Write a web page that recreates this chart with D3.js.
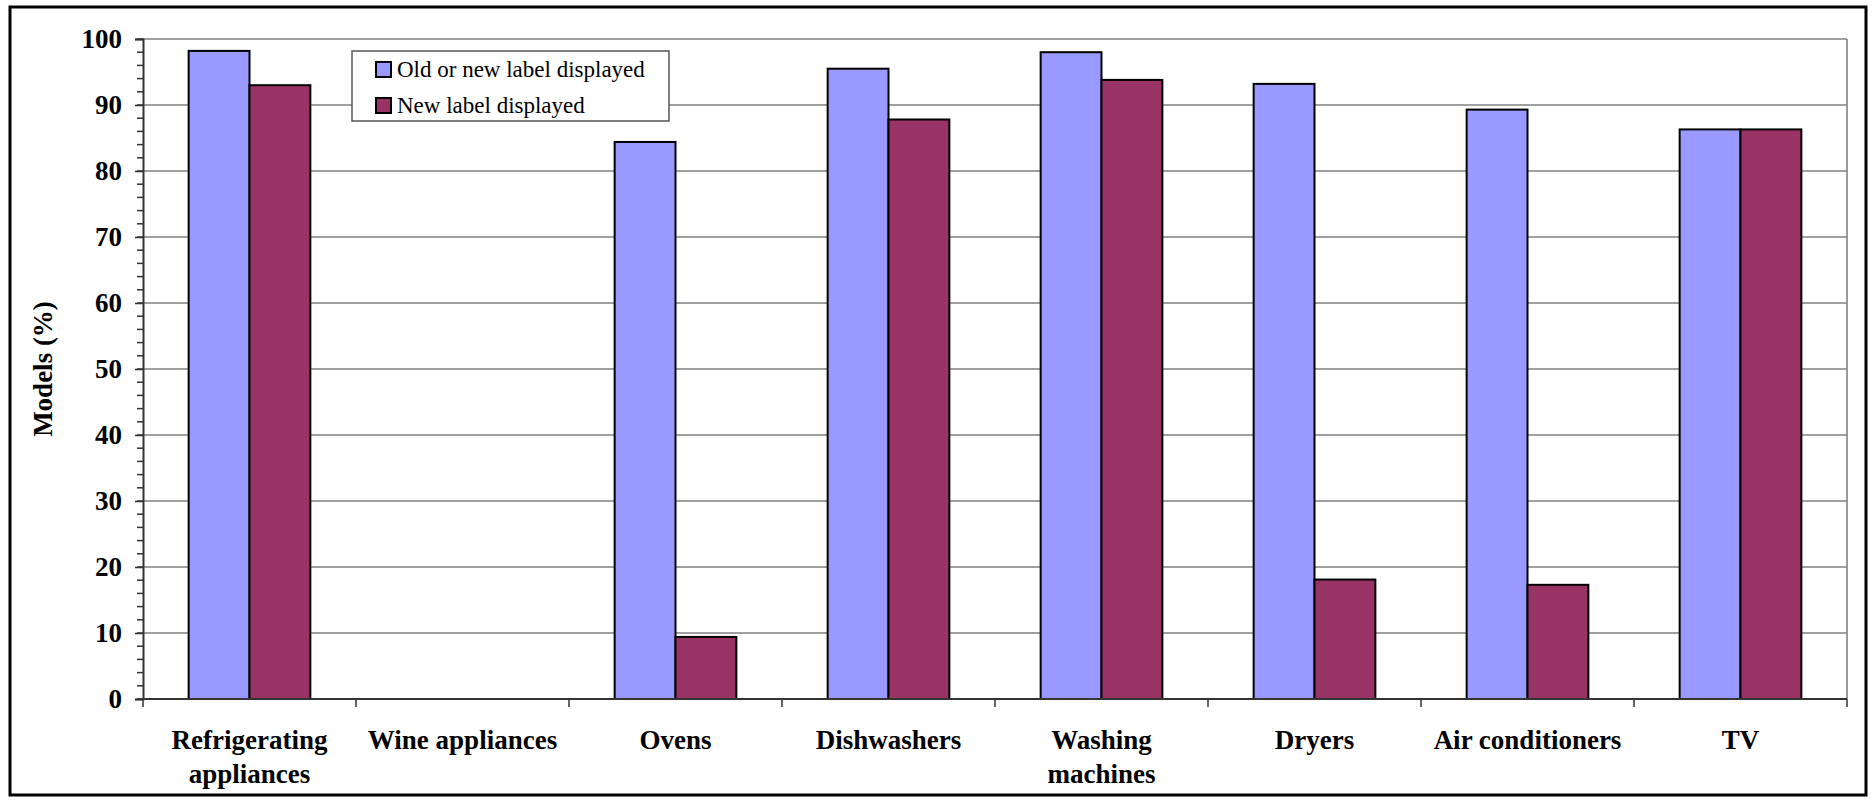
<!DOCTYPE html>
<html>
<head>
<meta charset="utf-8">
<script src="https://cdn.jsdelivr.net/npm/d3@7"></script>
<style>
  html, body { margin: 0; padding: 0; background: #fff; }
  svg { display: block; }
</style>
</head>
<body>
<svg id="chart" width="1874" height="802"></svg>
<script>
// Appliance categories (line breaks mark two-line labels)
const categories = [
  "Refrigerating\nappliances",
  "Wine appliances",
  "Ovens",
  "Dishwashers",
  "Washing\nmachines",
  "Dryers",
  "Air conditioners",
  "TV"
];

const seriesNames = ["Old or new label displayed", "New label displayed"];

// Share of models (%) per category; null = no data shown
const oldOrNewLabel = [98.2, null, 84.4, 95.5, 98.0, 93.2, 89.3, 86.3];
const newLabel      = [93.0, null, 9.4, 87.8, 93.8, 18.1, 17.3, 86.3];

const yTicks = [0, 10, 20, 30, 40, 50, 60, 70, 80, 90, 100];
const yMinorTicks = d3.range(0, 101, 2);

const colors = ["#9999FF", "#993366"];

const svg = d3.select("#chart");
const W = 1874, H = 802;
const margin = { left: 143, right: 27, top: 39, bottom: 103 };
const plotW = W - margin.left - margin.right;   // 1704
const plotH = H - margin.top - margin.bottom;   // 660

// Outer frame
svg.append("rect")
  .attr("x", 10).attr("y", 7)
  .attr("width", 1856).attr("height", 788)
  .attr("fill", "#fff")
  .attr("stroke", "#000")
  .attr("stroke-width", 3);

const g = svg.append("g").attr("transform", `translate(${margin.left},${margin.top})`);

const x = d3.scaleBand().domain(categories).range([0, plotW]).padding(0);
const y = d3.scaleLinear().domain([0, 100]).range([plotH, 0]);

// Two bars per group with a 150% gap between groups
const barW = x.bandwidth() / 3.5;
const x1 = d3.scaleBand().domain(seriesNames).range([0, 2 * barW]).padding(0);
const groupOffset = (x.bandwidth() - 2 * barW) / 2;

// Horizontal gridlines
g.append("g")
  .selectAll("line")
  .data(yTicks.filter(d => d > 0))
  .join("line")
  .attr("x1", 0).attr("x2", plotW)
  .attr("y1", d => y(d)).attr("y2", d => y(d))
  .attr("stroke", "#808080")
  .attr("stroke-width", 1.6);

// Right border of the plot area
g.append("line")
  .attr("x1", plotW).attr("x2", plotW)
  .attr("y1", 0).attr("y2", plotH)
  .attr("stroke", "#808080")
  .attr("stroke-width", 1.6);

// Bars
const rows = categories.map((c, i) => ({
  cat: c,
  values: [
    { s: seriesNames[0], v: oldOrNewLabel[i], k: 0 },
    { s: seriesNames[1], v: newLabel[i], k: 1 }
  ]
}));

const groups = g.append("g")
  .selectAll("g")
  .data(rows)
  .join("g")
  .attr("transform", d => `translate(${x(d.cat) + groupOffset},0)`);

groups.selectAll("rect")
  .data(d => d.values.filter(v => v.v !== null))
  .join("rect")
  .attr("x", d => x1(d.s))
  .attr("width", x1.bandwidth())
  .attr("y", d => y(d.v))
  .attr("height", d => y(0) - y(d.v))
  .attr("fill", d => colors[d.k])
  .attr("stroke", "#000")
  .attr("stroke-width", 2);

// Y axis: minor ticks
g.append("g")
  .selectAll("line")
  .data(yMinorTicks)
  .join("line")
  .attr("x1", -6).attr("x2", 0)
  .attr("y1", d => y(d)).attr("y2", d => y(d))
  .attr("stroke", "#333")
  .attr("stroke-width", 1.5);

// Y axis: major ticks and labels
const yAxis = g.append("g")
  .call(d3.axisLeft(y).tickValues(yTicks).tickSize(8).tickPadding(13).tickFormat(d3.format("d")));
yAxis.select(".domain").attr("stroke", "#333").attr("stroke-width", 2);
yAxis.selectAll(".tick line").attr("stroke", "#333").attr("stroke-width", 1.5);
yAxis.selectAll(".tick text")
  .attr("font-family", "'Liberation Serif', 'Times New Roman', serif")
  .attr("font-weight", "bold")
  .attr("font-size", 27)
  .attr("fill", "#000");

// X axis line
g.append("line")
  .attr("x1", 0).attr("x2", plotW)
  .attr("y1", plotH).attr("y2", plotH)
  .attr("stroke", "#333")
  .attr("stroke-width", 2);

// X axis ticks at category boundaries
const boundaries = categories.map(c => x(c)).concat([plotW]);
g.append("g")
  .selectAll("line")
  .data(boundaries)
  .join("line")
  .attr("x1", d => d).attr("x2", d => d)
  .attr("y1", plotH).attr("y2", plotH + 8)
  .attr("stroke", "#333")
  .attr("stroke-width", 1.5);

// Category labels
const catLabels = g.append("g")
  .selectAll("text")
  .data(categories)
  .join("text")
  .attr("x", d => x(d) + x.bandwidth() / 2)
  .attr("y", plotH + 50)
  .attr("text-anchor", "middle")
  .attr("font-family", "'Liberation Serif', 'Times New Roman', serif")
  .attr("font-weight", "bold")
  .attr("font-size", 27)
  .attr("fill", "#000");

catLabels.selectAll("tspan")
  .data(d => d.split("\n").map(t => ({ t, x: x(d) + x.bandwidth() / 2 })))
  .join("tspan")
  .attr("x", d => d.x)
  .attr("dy", (d, i) => i === 0 ? 0 : 34)
  .text(d => d.t);

// Y axis title
svg.append("text")
  .attr("transform", `translate(52,${margin.top + plotH / 2}) rotate(-90)`)
  .attr("text-anchor", "middle")
  .attr("font-family", "'Liberation Serif', 'Times New Roman', serif")
  .attr("font-weight", "bold")
  .attr("font-size", 27)
  .attr("fill", "#000")
  .text("Models (%)");

// Legend
const legend = svg.append("g").attr("transform", "translate(352,51)");
legend.append("rect")
  .attr("width", 317).attr("height", 70)
  .attr("fill", "#fff")
  .attr("stroke", "#555")
  .attr("stroke-width", 1.5);

const items = legend.selectAll("g.item")
  .data(seriesNames)
  .join("g")
  .attr("class", "item")
  .attr("transform", (d, i) => `translate(24,${11 + i * 36})`);

items.append("rect")
  .attr("width", 15).attr("height", 15)
  .attr("fill", (d, i) => colors[i])
  .attr("stroke", "#000")
  .attr("stroke-width", 2);

items.append("text")
  .attr("x", 21)
  .attr("y", 15)
  .attr("font-family", "'Liberation Serif', 'Times New Roman', serif")
  .attr("font-size", 23)
  .attr("fill", "#000")
  .text(d => d);
</script>
</body>
</html>
